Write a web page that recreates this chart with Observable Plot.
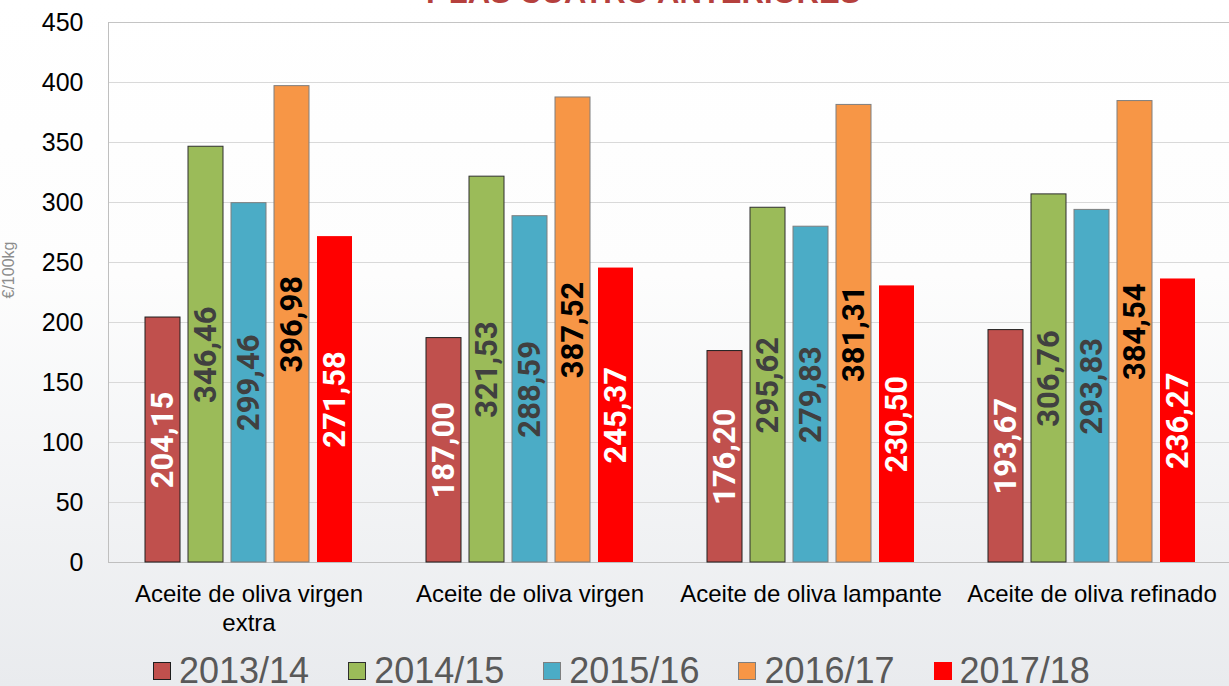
<!DOCTYPE html>
<html><head><meta charset="utf-8">
<script src="https://cdn.jsdelivr.net/npm/d3@7"></script>
<script src="https://cdn.jsdelivr.net/npm/@observablehq/plot@0.6"></script>
<style>
html,body{margin:0;padding:0;width:1229px;height:686px;overflow:hidden;}
body{background:linear-gradient(180deg,#ffffff 0%,#fdfdfd 40%,#e9ebee 100%);font-family:"Liberation Sans",Arial,sans-serif;position:relative;}
#title{position:absolute;left:420px;top:-23px;font-size:31px;line-height:31px;font-weight:bold;color:#b5403d;white-space:nowrap;}
#chart{position:absolute;left:0;top:0;width:1232px;height:640px;}
#chart svg{position:absolute;left:0;top:0;}
#legend{position:absolute;left:153px;top:652px;display:flex;align-items:center;height:37px;white-space:nowrap;}
.item{display:flex;align-items:center;margin-right:39px;font-size:36px;line-height:36px;color:#595959;}
.sw{width:18px;height:18px;box-sizing:border-box;margin-right:8px;}
</style></head><body>
<div id="title">Y LAS CUATRO ANTERIORES</div>
<div id="chart"></div>
<div id="legend"></div>
<script>
// ---- data ----
const categories = ["Aceite de oliva virgen extra", "Aceite de oliva virgen", "Aceite de oliva lampante", "Aceite de oliva refinado"];
const tickLabels = ["Aceite de oliva virgen\nextra", "Aceite de oliva virgen", "Aceite de oliva lampante", "Aceite de oliva refinado"];
const seasons = ["2013/14", "2014/15", "2015/16", "2016/17", "2017/18"];
const v2013_14 = [204.15, 187.00, 176.20, 193.67];
const v2014_15 = [346.46, 321.53, 295.62, 306.76];
const v2015_16 = [299.46, 288.59, 279.83, 293.83];
const v2016_17 = [396.98, 387.52, 381.31, 384.54];
const v2017_18 = [271.58, 245.37, 230.50, 236.27];
const yTicks = [0, 50, 100, 150, 200, 250, 300, 350, 400, 450];
const yLabel = "€/100kg";

// ---- styles ----
const barColors = ["#c0504d", "#9bbb59", "#4bacc6", "#f79646", "#ff0000"];
const barStrokes = ["#1e1e1e", "#2f2f2f", "#7f7f7f", "#7f7f7f", null];
const labelColors = ["#ffffff", "#404040", "#404040", "#000000", "#ffffff"];

const seriesValues = [v2013_14, v2014_15, v2015_16, v2016_17, v2017_18];
const rows = [];
seasons.forEach((s, i) => categories.forEach((c, j) => rows.push({cat: c, season: s, value: seriesValues[i][j]})));
const fmt = v => v.toFixed(2).replace(".", ",");

const W = 1232, H = 640;
const margins = {marginLeft: 108, marginRight: 0, marginTop: 22, marginBottom: 78};
const font = "'Liberation Sans', Arial, sans-serif";

const bg = Plot.plot({
  width: W, height: H, ...margins,
  style: {background: "transparent", fontFamily: font, color: "black", overflow: "visible"},
  x: {domain: [0, 1], axis: null},
  y: {domain: [0, 450], axis: null},
  marks: [
    Plot.gridY(yTicks.filter(t => t > 0 && t < 450), {stroke: "#d9d9d9", strokeOpacity: 1}),
    Plot.ruleY([450], {stroke: "#c4c4c4"}),
    Plot.ruleY([0], {stroke: "#bfbfbf"}),
    Plot.ruleX([0], {stroke: "#bfbfbf"}),
    Plot.axisY(yTicks, {tickSize: 0, tickPadding: 25, fontSize: 25, label: null, fill: "black"}),
    Plot.text([yLabel], {text: d => d, frameAnchor: "left", rotate: -90, dx: -100, dy: 6, fontSize: 16, fill: "#8c8c8c"})
  ]
});

const fg = Plot.plot({
  width: W, height: H, ...margins,
  style: {background: "transparent", fontFamily: font, color: "black", overflow: "visible"},
  fx: {domain: categories, paddingInner: 0.263, paddingOuter: 0.1315, label: null},
  x: {domain: seasons, paddingInner: 0.19, paddingOuter: 0, axis: null},
  y: {domain: [0, 450], axis: null},
  marks: [
    ...seasons.map((s, i) => Plot.barY(rows.filter(d => d.season === s), {
      fx: "cat", x: "season", y: "value", fill: barColors[i],
      stroke: barStrokes[i] || undefined, strokeWidth: 1
    })),
    ...seasons.map((s, i) => Plot.text(rows.filter(d => d.season === s), {
      fx: "cat", x: "season", y: d => d.value / 2, text: d => fmt(d.value),
      rotate: -90, fill: labelColors[i], fontSize: 31, fontWeight: "bold", fontFamily: "Roboto"
    })),
    Plot.axisFx({anchor: "bottom", tickSize: 0, tickPadding: 19, fontSize: 24, lineHeight: 1.2,
      label: null, fill: "black", tickFormat: d => tickLabels[categories.indexOf(d)]})
  ]
});

const chart = document.getElementById("chart");
chart.appendChild(bg);
chart.appendChild(fg);

const legend = document.getElementById("legend");
seasons.forEach((s, i) => {
  const item = document.createElement("div");
  item.className = "item";
  const sw = document.createElement("span");
  sw.className = "sw";
  sw.style.background = barColors[i];
  if (barStrokes[i]) sw.style.border = "1px solid " + barStrokes[i];
  const t = document.createElement("span");
  t.textContent = s;
  item.appendChild(sw);
  item.appendChild(t);
  legend.appendChild(item);
});
</script></body></html>
